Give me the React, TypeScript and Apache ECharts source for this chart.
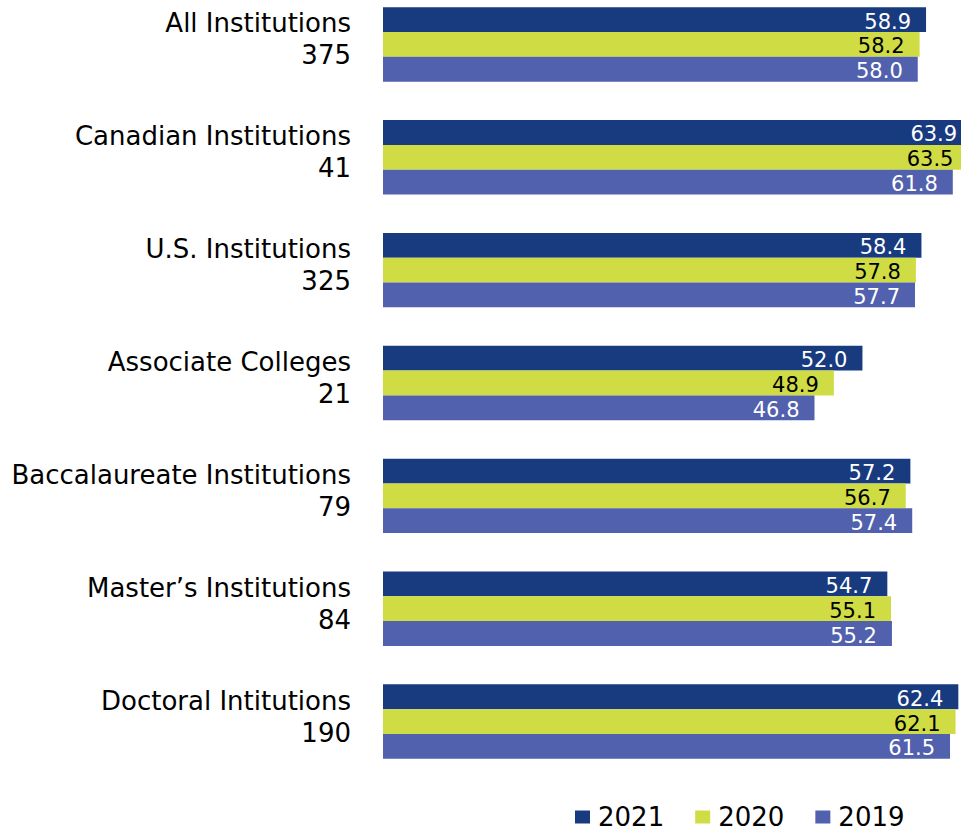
import React, { useEffect, useRef } from "react";
import * as echarts from "echarts";

const categories = [
  "All Institutions",
  "Canadian Institutions",
  "U.S. Institutions",
  "Associate Colleges",
  "Baccalaureate Institutions",
  "Master\u2019s Institutions",
  "Doctoral Intitutions",
];
const counts = [375, 41, 325, 21, 79, 84, 190];
const seriesNames = ["2021", "2020", "2019"];
const values2021 = [58.9, 63.9, 58.4, 52.0, 57.2, 54.7, 62.4];
const values2020 = [58.2, 63.5, 57.8, 48.9, 56.7, 55.1, 62.1];
const values2019 = [58.0, 61.8, 57.7, 46.8, 57.4, 55.2, 61.5];

const colors = ["#183a7f", "#d0dc44", "#5261ad"];
const labelColors = ["#ffffff", "#000000", "#ffffff"];
const FONT = "DejaVu Sans";

export default function App() {
  const ref = useRef<HTMLDivElement>(null);
  useEffect(() => {
    if (!ref.current) return;
    const chart = echarts.init(ref.current, undefined, { renderer: "svg" });
    const allValues = [values2021, values2020, values2019];
    const catText = {
      fontFamily: FONT,
      fontSize: 26,
      color: "#000000",
      lineHeight: 32,
      align: "right",
    };
    chart.setOption({
      animation: false,
      backgroundColor: "#ffffff",
      grid: {
        left: 383,
        top: -12,
        width: 645.4,
        height: 790,
        containLabel: false,
        outerBoundsMode: "none",
      },
      xAxis: {
        type: "value",
        min: 0,
        max: 70,
        show: false,
        splitLine: { show: false },
      },
      yAxis: {
        type: "category",
        data: categories,
        inverse: true,
        axisLine: { show: false, onZero: false },
        axisTick: { show: false },
        axisLabel: {
          margin: 32,
          fontFamily: FONT,
          fontSize: 26,
          color: "#000000",
          align: "right",
          verticalAlign: "middle",
          formatter: (v: string, i: number) => `{a|${v}}\n{b|${counts[i]}}\n{c| }`,
          rich: {
            a: catText,
            b: catText,
            c: { fontSize: 8, lineHeight: 10 },
          },
        },
      },
      legend: {
        left: 575,
        top: 804,
        padding: 0,
        itemWidth: 15,
        itemHeight: 13,
        itemGap: 31,
        icon: "rect",
        data: seriesNames,
        textStyle: {
          fontFamily: FONT,
          fontSize: 26,
          color: "#000000",
          lineHeight: 26,
          padding: [0, 0, 0, 3],
        },
      },
      series: seriesNames.map((name, si) => ({
        name,
        type: "bar",
        data: allValues[si],
        barWidth: 24.8,
        barGap: "0%",
        itemStyle: { color: colors[si] },
        label: {
          show: true,
          position: "insideRight",
          distance: 15,
          offset: [0, 2],
          fontFamily: FONT,
          fontSize: 21,
          color: labelColors[si],
          formatter: (p: any) => Number(p.value).toFixed(1),
        },
      })),
    });
    return () => chart.dispose();
  }, []);
  return (
    <div
      ref={ref}
      style={{ position: "absolute", left: 0, top: 0, width: 961, height: 831 }}
    />
  );
}
